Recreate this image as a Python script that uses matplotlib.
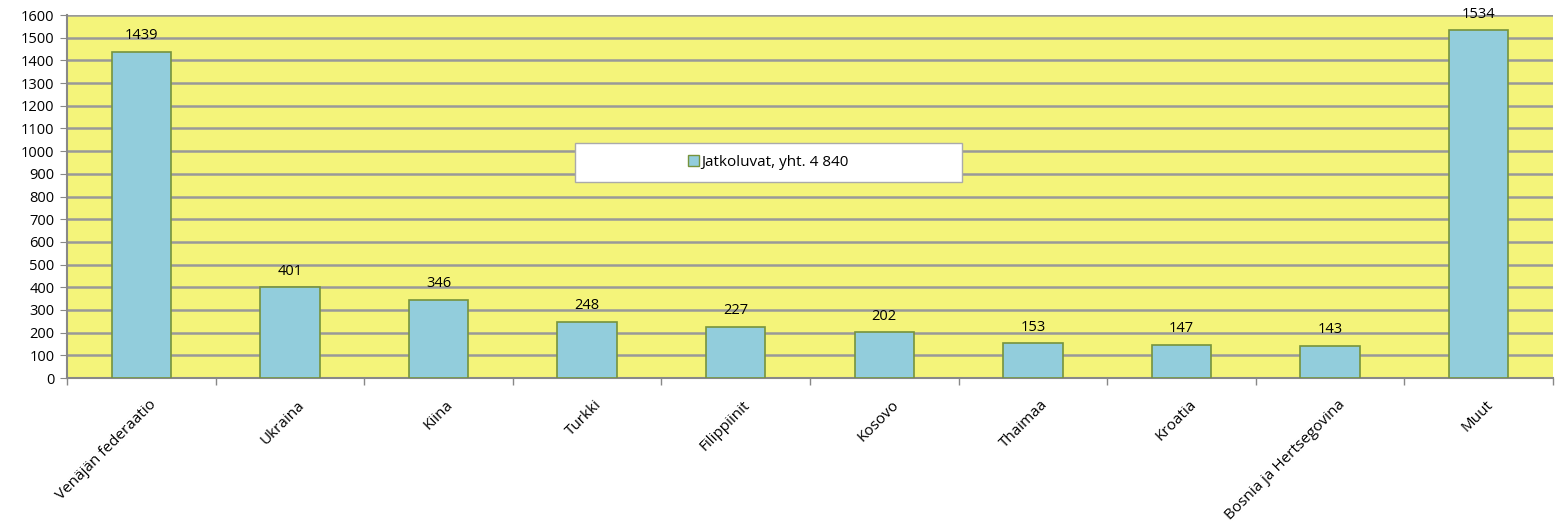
import matplotlib.pyplot as plt
import matplotlib.transforms as mtransforms
from matplotlib.patches import Patch, Rectangle

countries = ["Venäjän federaatio", "Ukraina", "Kiina", "Turkki", "Filippiinit",
             "Kosovo", "Thaimaa", "Kroatia", "Bosnia ja Hertsegovina", "Muut"]
values = [1439, 401, 346, 248, 227, 202, 153, 147, 143, 1534]
series_label = "Jatkoluvat, yht. 4 840"

plt.rcParams['font.family'] = ['Open Sans', 'DejaVu Sans']

fig = plt.figure(figsize=(15.55, 5.29), dpi=100)
ax = fig.add_axes([0.0431, 0.2854, 0.9556, 0.6862])
ax.set_facecolor("#F4F47A")

x = range(len(countries))
ax.bar(x, values, width=0.4, color="#92CDDC", edgecolor="#77933C", linewidth=1.2, zorder=3)

# value labels above bars
for xi, v in zip(x, values):
    ax.annotate(str(v), (xi, v), xytext=(0, 6), textcoords="offset points",
                ha="center", va="bottom", fontsize=10.5)

ax.set_xlim(-0.5, len(countries) - 0.5)
ax.set_ylim(0, 1600)
ax.set_yticks(range(0, 1601, 100))
ax.yaxis.grid(True, color="#999999", linewidth=1.8, zorder=0)
ax.set_axisbelow(True)

ax.set_xticks(list(x))
ax.set_xticklabels(countries, rotation=45, ha="right", rotation_mode="anchor", fontsize=11)
ax.tick_params(axis="x", which="major", length=0, pad=14)
shift = mtransforms.ScaledTranslation(7 / 100, 0, fig.dpi_scale_trans)
for lbl in ax.get_xticklabels():
    lbl.set_transform(lbl.get_transform() + shift)
ax.set_xticks([i - 0.5 for i in range(len(countries) + 1)], minor=True)
ax.tick_params(axis="x", which="minor", length=5, color="#888888", width=1)
ax.tick_params(axis="y", length=5, color="#888888", labelsize=10.5, pad=4)

for side in ["top", "right"]:
    ax.spines[side].set_visible(False)
for side in ["left", "bottom"]:
    ax.spines[side].set_color("#888888")
    ax.spines[side].set_linewidth(1.5)

# legend box
box = Rectangle((0.342, 0.539), 0.26, 0.108, transform=ax.transAxes,
                facecolor="white", edgecolor="#AAAAAA", linewidth=1, zorder=4)
ax.add_patch(box)
ax.legend(handles=[Patch(facecolor="#92CDDC", edgecolor="#77933C", label=series_label)],
          loc="center", bbox_to_anchor=(0.472, 0.594), frameon=False, fontsize=11,
          handlelength=0.7, handleheight=0.7, handletextpad=0.2).set_zorder(5)

fig.savefig("out.png", dpi=100)
